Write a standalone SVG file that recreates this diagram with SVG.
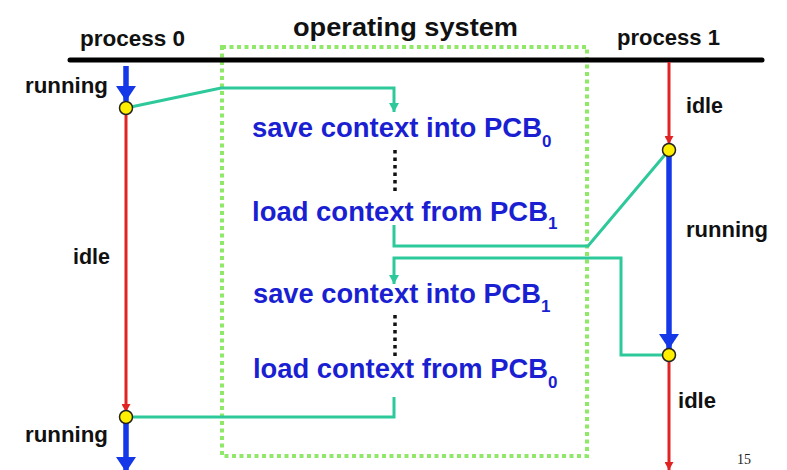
<svg xmlns="http://www.w3.org/2000/svg" width="787" height="470" viewBox="0 0 787 470">
<defs>
<style>
text{font-family:"Liberation Sans",Arial,sans-serif;font-weight:bold}
.lbl{font-size:22px;fill:#111}
.title{font-size:26px;fill:#111}
.blue{font-size:27px;fill:#1a1fd2}
.sub{font-size:17px;fill:#1a1fd2}
.pg{font-family:"Liberation Serif","Times New Roman",serif;font-weight:normal;font-size:14px;fill:#222}
.run{stroke:#1438e8;stroke-width:5.5;fill:none}
.idle{stroke:#e02424;stroke-width:3;fill:none}
.ctx{stroke:#2dc99a;stroke-width:3;fill:none;stroke-linejoin:miter}
.dots{stroke:#111;stroke-width:3.5;stroke-dasharray:3.5 4;fill:none}
.evt{fill:#ffee00;stroke:#222;stroke-width:1.5}
</style>
<marker id="mBlue" markerUnits="userSpaceOnUse" viewBox="0 0 15 20" refX="15" refY="10" markerWidth="15" markerHeight="20" orient="auto"><path d="M0,0 L15,10 L0,20 z" fill="#1438e8"/></marker>
<marker id="mRed" markerUnits="userSpaceOnUse" viewBox="0 0 8 9" refX="8" refY="4.5" markerWidth="8" markerHeight="9" orient="auto"><path d="M0,0 L8,4.5 L0,9 z" fill="#e02424"/></marker>
<marker id="mTeal" markerUnits="userSpaceOnUse" viewBox="0 0 9 10" refX="9" refY="5" markerWidth="9" markerHeight="10" orient="auto"><path d="M0,0 L9,5 L0,10 z" fill="#2dc99a"/></marker>
</defs>
<rect width="787" height="470" fill="#fff"/>

<g id="os">
<rect x="222" y="47" width="365" height="409" fill="none" stroke="#8fe868" stroke-width="4" stroke-dasharray="4 3.5"/>
<text class="title" x="293" y="36" textLength="225" lengthAdjust="spacingAndGlyphs">operating system</text>
</g>

<g id="timeline">
<line x1="70" y1="60" x2="762" y2="60" stroke="#000" stroke-width="5" stroke-linecap="round"/>
</g>

<g id="process0">
<text class="lbl" x="80" y="46" textLength="105" lengthAdjust="spacingAndGlyphs">process 0</text>
<line class="run" x1="126" y1="66" x2="126" y2="101" marker-end="url(#mBlue)"/>
<line class="idle" x1="126" y1="108" x2="126" y2="412" marker-end="url(#mRed)"/>
<line class="run" x1="126" y1="417" x2="126" y2="472" marker-end="url(#mBlue)"/>
<text class="lbl" x="25" y="93" textLength="83" lengthAdjust="spacingAndGlyphs">running</text>
<text class="lbl" x="73" y="264" textLength="37" lengthAdjust="spacingAndGlyphs">idle</text>
<text class="lbl" x="25" y="442" textLength="83" lengthAdjust="spacingAndGlyphs">running</text>
</g>

<g id="process1">
<text class="lbl" x="617" y="45" textLength="103" lengthAdjust="spacingAndGlyphs">process 1</text>
<line class="idle" x1="669" y1="62" x2="669" y2="144" marker-end="url(#mRed)"/>
<line class="run" x1="669" y1="150" x2="669" y2="349" marker-end="url(#mBlue)"/>
<line class="idle" x1="669" y1="355" x2="669" y2="470" marker-end="url(#mRed)"/>
<text class="lbl" x="686" y="113" textLength="37" lengthAdjust="spacingAndGlyphs">idle</text>
<text class="lbl" x="686" y="237" textLength="82" lengthAdjust="spacingAndGlyphs">running</text>
<text class="lbl" x="678" y="408" textLength="38" lengthAdjust="spacingAndGlyphs">idle</text>
</g>

<g id="save0">
<text class="blue" x="252" y="137" textLength="290" lengthAdjust="spacingAndGlyphs">save context into PCB</text>
<text class="sub" x="542" y="147">0</text>
</g>
<g id="load1">
<text class="blue" x="252" y="221" textLength="296" lengthAdjust="spacingAndGlyphs">load context from PCB</text>
<text class="sub" x="548" y="229">1</text>
</g>
<g id="save1">
<text class="blue" x="253" y="303" textLength="288" lengthAdjust="spacingAndGlyphs">save context into PCB</text>
<text class="sub" x="541" y="312">1</text>
</g>
<g id="load0">
<text class="blue" x="253" y="378" textLength="295" lengthAdjust="spacingAndGlyphs">load context from PCB</text>
<text class="sub" x="548" y="388">0</text>
</g>

<g id="connectors">
<polyline class="ctx" points="126,108 221,88 394,88 394,112" marker-end="url(#mTeal)"/>
<line class="dots" x1="395" y1="150" x2="395" y2="194"/>
<polyline class="ctx" points="394,225 394,246 588,246 669,150"/>
<polyline class="ctx" points="669,355 621,355 621,258 394,258 394,284" marker-end="url(#mTeal)"/>
<line class="dots" x1="395" y1="315" x2="395" y2="359"/>
<polyline class="ctx" points="394,397 394,417 126,417"/>
</g>

<g id="events">
<circle class="evt" cx="126" cy="108" r="6.5"/>
<circle class="evt" cx="126" cy="417" r="6.5"/>
<circle class="evt" cx="669" cy="150" r="6.5"/>
<circle class="evt" cx="669" cy="355" r="6.5"/>
</g>

<text class="pg" x="737" y="464">15</text>
</svg>
